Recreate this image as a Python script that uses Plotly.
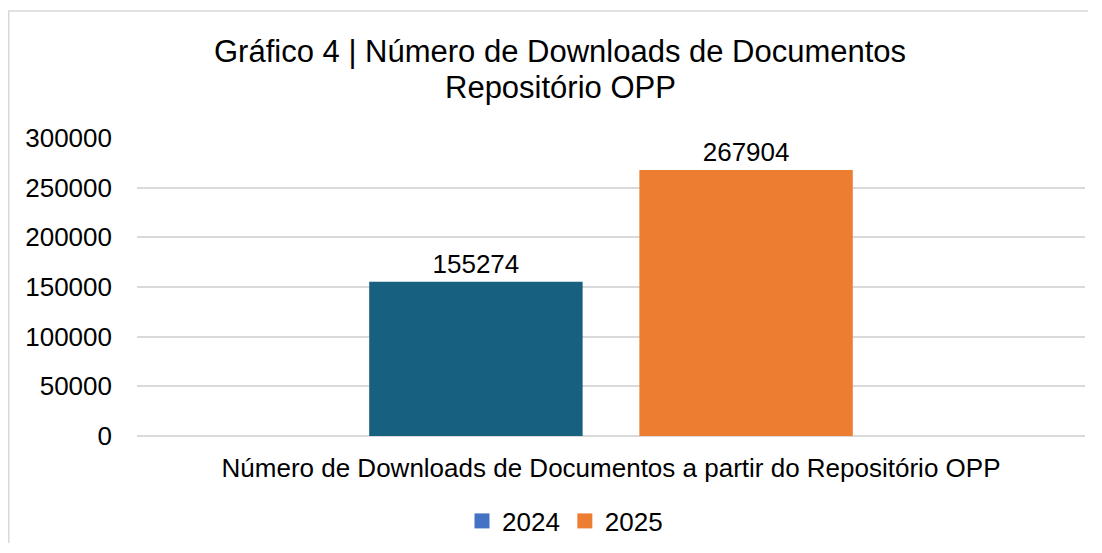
import plotly.graph_objects as go

categories = ["Número de Downloads de Documentos a partir do Repositório OPP"]
series_names = ["2024", "2025"]
values_2024 = [155274]
values_2025 = [267904]
y_ticks = [0, 50000, 100000, 150000, 200000, 250000, 300000]
title_lines = ["Gráfico 4 | Número de Downloads de Documentos", "Repositório OPP"]

bar_colors = ["#17607F", "#ED7D31"]
legend_colors = ["#4472C4", "#ED7D31"]
FONT = "Liberation Sans, Arial, sans-serif"

fig = go.Figure()
for name, vals, c in zip(series_names, [values_2024, values_2025], bar_colors):
    fig.add_trace(go.Bar(
        x=categories, y=vals, name=name, marker_color=c, marker_line_width=0,
        text=[str(v) for v in vals], textposition="outside",
        textfont=dict(size=26, color="#000000", family=FONT),
        cliponaxis=False, showlegend=False,
    ))
for name, c in zip(series_names, legend_colors):
    fig.add_trace(go.Scatter(
        x=[None], y=[None], mode="markers", name=name,
        marker=dict(symbol="square", size=15, color=c),
    ))

# page has an 8px body margin; figure coords = page coords - 8
W, H = 1080, 535
L, R, T, B = 129, 3, 130, 107
pw = W - L - R
ph = H - T - B


def py(yfig):
    return ((H - B) - yfig) / ph


def px(xfig):
    return (xfig - L) / pw


annotations = []
for line, yc in zip(title_lines, [43, 79]):
    annotations.append(dict(
        text=line, xref="paper", yref="paper", x=px(552), y=py(yc),
        xanchor="center", yanchor="middle", showarrow=False,
        font=dict(size=31, family=FONT, color="#000000"),
    ))

fig.update_layout(
    width=W, height=H,
    margin=dict(l=L, r=R, t=T, b=B, pad=0, autoexpand=False),
    paper_bgcolor="white", plot_bgcolor="white",
    font=dict(family=FONT, color="#000000", size=26),
    barmode="group", bargap=0.43, bargroupgap=0.21,
    annotations=annotations,
    legend=dict(
        orientation="h", xref="container", yref="container",
        x=557 / W, xanchor="center",
        y=1 - 513 / H, yanchor="middle",
        font=dict(size=26, family=FONT), itemwidth=30,
        traceorder="normal",
    ),
    xaxis=dict(
        showgrid=False, showline=False, ticks="", zeroline=False,
        tickfont=dict(size=26, family=FONT), ticklabelstandoff=14,
        automargin=False,
    ),
    yaxis=dict(
        range=[0, 300000], tickvals=y_ticks, ticktext=[str(v) for v in y_ticks],
        showgrid=True, gridcolor="#D9D9D9", gridwidth=1.5,
        zeroline=True, zerolinecolor="#D9D9D9", zerolinewidth=1.5,
        showline=False, ticks="", tickfont=dict(size=26, family=FONT),
        ticklabelstandoff=24, automargin=False,
    ),
    shapes=[
        dict(type="line", xref="paper", yref="paper",
             x0=px(0.75), x1=px(0.75), y0=py(3), y1=py(H + 20),
             line=dict(color="#D9D9D9", width=1.5), layer="below"),
        dict(type="line", xref="paper", yref="paper",
             x0=px(0), x1=px(W + 20), y0=py(3), y1=py(3),
             line=dict(color="#D9D9D9", width=1.5), layer="below"),
    ],
)

fig.write_html("out.html")
